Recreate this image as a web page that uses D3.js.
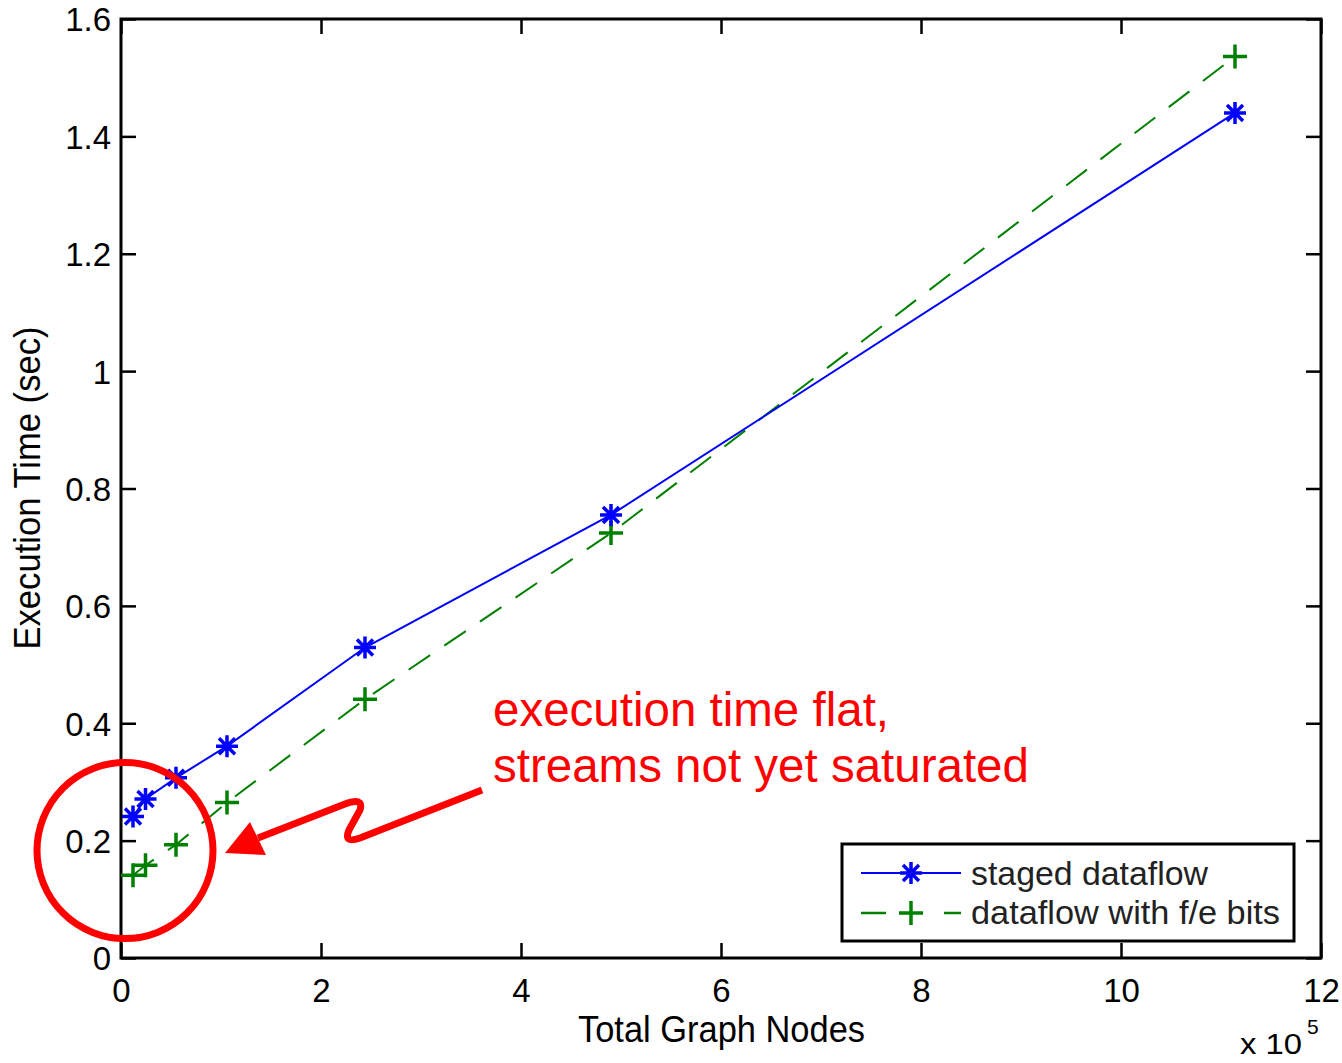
<!DOCTYPE html>
<html><head><meta charset="utf-8">
<script src="https://cdn.jsdelivr.net/npm/d3@7"></script>
<style>html,body{margin:0;padding:0;background:#fff;}svg{display:block;font-family:"Liberation Sans",Arial,Helvetica,sans-serif;}</style>
</head><body>
<svg id="chart" width="1342" height="1063"></svg>
<script>
// ---- data ----
const nodes = [0.12, 0.245, 0.55, 1.06, 2.44, 4.9, 11.14];          // x 10^5
const stagedTime = [0.241, 0.271, 0.307, 0.361, 0.529, 0.755, 1.44];
const feBitsTime = [0.141, 0.158, 0.193, 0.265, 0.441, 0.724, 1.536];
const xTicks = [0, 2, 4, 6, 8, 10, 12];
const yTicks = [0, 0.2, 0.4, 0.6, 0.8, 1, 1.2, 1.4, 1.6];
const seriesNames = ["staged dataflow", "dataflow with f/e bits"];
const annotationLines = ["execution time flat,", "streams not yet saturated"];

const svg = d3.select("#chart");
const L = 121, R = 1321, T = 19, B = 958;
const x = d3.scaleLinear().domain([0, 12]).range([L, R]);
const y = d3.scaleLinear().domain([0, 1.6]).range([B, T]);

// frame
svg.append("rect").attr("x", L).attr("y", T).attr("width", R - L).attr("height", B - T)
  .attr("fill", "none").attr("stroke", "#000").attr("stroke-width", 3);

const tl = 15;
function styleAxis(g) {
  g.select(".domain").remove();
  g.selectAll(".tick line").attr("stroke", "#000").attr("stroke-width", 2.5);
}
// bottom & top axes
const gb = svg.append("g").attr("transform", `translate(0,${B})`)
  .call(d3.axisBottom(x).tickValues(xTicks).tickSizeInner(-tl).tickSizeOuter(0).tickPadding(0).tickFormat(d3.format("d")));
styleAxis(gb);
gb.selectAll(".tick text").attr("y", 44).attr("dy", null).attr("font-size", 33).attr("fill", "#000")
  .attr("font-family", "'Liberation Sans',Arial,sans-serif");
const gt = svg.append("g").attr("transform", `translate(0,${T})`)
  .call(d3.axisTop(x).tickValues(xTicks).tickSizeInner(-tl).tickSizeOuter(0).tickFormat(""));
styleAxis(gt);
// left & right axes
const gl = svg.append("g").attr("transform", `translate(${L},0)`)
  .call(d3.axisLeft(y).tickValues(yTicks).tickSizeInner(-tl).tickSizeOuter(0).tickPadding(0).tickFormat(d => d3.format("")(+d.toFixed(1))));
styleAxis(gl);
gl.selectAll(".tick text").attr("x", -10).attr("dy", "0.36em").attr("font-size", 33).attr("fill", "#000")
  .attr("font-family", "'Liberation Sans',Arial,sans-serif");
const gr = svg.append("g").attr("transform", `translate(${R},0)`)
  .call(d3.axisRight(y).tickValues(yTicks).tickSizeInner(-tl).tickSizeOuter(0).tickFormat(""));
styleAxis(gr);

// axis labels
svg.append("text").attr("x", (578 + 865) / 2).attr("y", 1042).attr("text-anchor", "middle")
  .attr("font-size", 36).attr("textLength", 287).attr("lengthAdjust", "spacingAndGlyphs")
  .text("Total Graph Nodes");
svg.append("text").attr("transform", "translate(40,488) rotate(-90)").attr("text-anchor", "middle")
  .attr("font-size", 36).attr("textLength", 323).attr("lengthAdjust", "spacingAndGlyphs")
  .text("Execution Time (sec)");
svg.append("text").attr("x", 1240).attr("y", 1054).attr("font-size", 29)
  .attr("textLength", 62).attr("lengthAdjust", "spacingAndGlyphs").text("x 10");
svg.append("text").attr("x", 1307).attr("y", 1034).attr("font-size", 21).text("5");

// markers
function asterisk(g, cx, cy, col) {
  const a = 11, d = 8;
  g.append("path").attr("d", `M${cx - a},${cy}H${cx + a}M${cx},${cy - a}V${cy + a}M${cx - d},${cy - d}L${cx + d},${cy + d}M${cx - d},${cy + d}L${cx + d},${cy - d}`)
    .attr("stroke", col).attr("stroke-width", 3.5).attr("fill", "none");
}
function plus(g, cx, cy, col) {
  const a = 12;
  g.append("path").attr("d", `M${cx - a},${cy}H${cx + a}M${cx},${cy - a}V${cy + a}`)
    .attr("stroke", col).attr("stroke-width", 3.5).attr("fill", "none");
}

const blue = "#0000ff", green = "#008000";
const line = d3.line().x(d => x(d[0])).y(d => y(d[1]));
const stagedPts = nodes.map((n, i) => [n, stagedTime[i]]);
const fePts = nodes.map((n, i) => [n, feBitsTime[i]]);

svg.append("path").attr("d", line(fePts)).attr("fill", "none").attr("stroke", green)
  .attr("stroke-width", 2).attr("stroke-dasharray", "26,17");
svg.append("path").attr("d", line(stagedPts)).attr("fill", "none").attr("stroke", blue).attr("stroke-width", 2);
const gm = svg.append("g");
fePts.forEach(p => plus(gm, x(p[0]), y(p[1]), green));
stagedPts.forEach(p => asterisk(gm, x(p[0]), y(p[1]), blue));

// legend
const lg = svg.append("g");
lg.append("rect").attr("x", 842).attr("y", 844).attr("width", 452).attr("height", 97)
  .attr("fill", "#fff").attr("stroke", "#000").attr("stroke-width", 3);
lg.append("line").attr("x1", 861).attr("x2", 961).attr("y1", 873).attr("y2", 873).attr("stroke", blue).attr("stroke-width", 2);
asterisk(lg, 911, 873, blue);
lg.append("line").attr("x1", 861).attr("x2", 961).attr("y1", 913).attr("y2", 913).attr("stroke", green)
  .attr("stroke-width", 2.5).attr("stroke-dasharray", "25,58");
plus(lg, 911, 913, green);
lg.append("text").attr("x", 971).attr("y", 885).attr("font-size", 33).attr("fill", "#222")
  .attr("textLength", 237).attr("lengthAdjust", "spacingAndGlyphs").text(seriesNames[0]);
lg.append("text").attr("x", 971).attr("y", 924).attr("font-size", 33).attr("fill", "#222")
  .attr("textLength", 309).attr("lengthAdjust", "spacingAndGlyphs").text(seriesNames[1]);

// annotation
const red = "#ff0000";
const ga = svg.append("g");
ga.append("circle").attr("cx", x(0.04)).attr("cy", y(0.183)).attr("r", 88)
  .attr("fill", "none").attr("stroke", red).attr("stroke-width", 7);
ga.append("path").attr("d", "M258,838 L345,804 Q364,797 360,810 L349,830 Q343,844 360,838 L482,790")
  .attr("fill", "none").attr("stroke", red).attr("stroke-width", 7).attr("stroke-linejoin", "round").attr("stroke-linecap", "butt");
ga.append("path").attr("d", "M225,853 L250,822 L266,855 Z").attr("fill", red);
annotationLines.forEach((t, i) => {
  ga.append("text").attr("x", 493).attr("y", 726 + i * 56).attr("font-size", 47.5).attr("fill", red).text(t);
});
</script>
</body></html>
